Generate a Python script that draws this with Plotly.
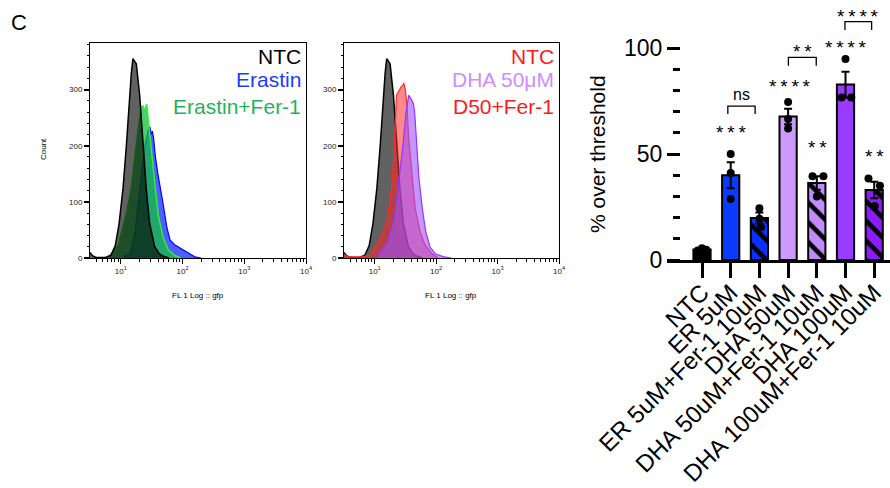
import numpy as np
import plotly.graph_objects as go

FONT = "Liberation Sans, Arial, sans-serif"
W, H = 890, 488


def fx(p):
    """pixel column -> paper x"""
    return p / W


def fy(p):
    """pixel row -> paper y"""
    return 1 - p / H


# ---------------- flow cytometry histograms (log10 FL1 position, event count) ----------------
ntc_log = [0.50, 0.54, 0.60, 0.75, 0.84, 0.91, 0.97, 1.035, 1.09, 1.143, 1.17, 1.195, 1.215,
           1.25, 1.305, 1.36, 1.413, 1.466, 1.548, 1.62, 1.69, 1.78]
ntc_cnt = [10, 4, 1, 1, 5, 22, 60, 124, 201, 290, 330, 355, 352, 346, 290, 201, 121, 62, 20, 8, 3, 0]

erastin_log = [1.05, 1.15, 1.23, 1.31, 1.39, 1.445, 1.47, 1.49, 1.51, 1.53, 1.56, 1.60, 1.634,
               1.688, 1.743, 1.797, 1.878, 1.986, 2.09, 2.2, 2.3]
erastin_cnt = [2, 8, 47, 130, 201, 228, 234, 220, 226, 214, 180, 150, 130, 94, 56, 32, 23, 16, 8, 2, 0]

erastin_fer_log = [0.80, 0.96, 1.095, 1.176, 1.23, 1.294, 1.338, 1.354, 1.38, 1.405, 1.419, 1.445,
                   1.50, 1.553, 1.607, 1.688, 1.77, 1.878, 1.97]
erastin_fer_cnt = [2, 23, 82, 130, 183, 242, 268, 272, 262, 268, 274, 245, 180, 130, 76, 35, 14, 4, 0]

d50_fer_log = [0.50, 0.55, 0.65, 0.80, 0.93, 1.094, 1.20, 1.28, 1.32, 1.355, 1.39, 1.43, 1.46,
               1.472, 1.50, 1.525, 1.553, 1.607, 1.66, 1.74, 1.82, 1.93, 2.03]
d50_fer_cnt = [6, 3, 2, 2, 5, 35, 65, 130, 201, 290, 297, 305, 308, 312, 299, 272, 213, 142, 88,
               47, 23, 8, 0]

dha50_log = [1.05, 1.21, 1.32, 1.40, 1.46, 1.51, 1.555, 1.59, 1.63, 1.65, 1.685, 1.72, 1.775,
             1.83, 1.90, 1.99, 2.13, 2.25]
dha50_cnt = [4, 29, 71, 142, 201, 260, 290, 284, 275, 260, 201, 142, 88, 47, 20, 7, 2, 0]

decade_vals = [10, 100, 1000, 10000]
decade_text = ["10<sup>1</sup>", "10<sup>2</sup>", "10<sup>3</sup>", "10<sup>4</sup>"]
count_ticks = [0, 100, 200, 300]

# ---------------- % over threshold bar chart ----------------
groups = ["NTC", "ER 5uM", "ER 5uM+Fer-1 10uM", "DHA 50uM", "DHA 50uM+Fer-1 10uM",
          "DHA 100uM", "DHA 100uM+Fer-1 10uM"]
replicates = [
    [4.5, 5.5, 4.8],
    [50.0, 41.0, 28.8],
    [24.4, 19.5, 15.5],
    [74.5, 66.5, 62.0],
    [39.5, 39.5, 30.0],
    [94.8, 76.7, 76.7],
    [38.5, 35.0, 25.5],
]
pct_ticks = [0, 50, 100]

# significance marks above single bars: (stars, x, y)
sig_single = [(3, 1.0, 62.3), (4, 3.07, 84.1), (2, 4.03, 55.3), (4, 5.0, 102.5), (2, 6.02, 51.0)]
# pairwise comparisons: (x left, x right, bracket top, leg bottom, stars (0 = ns), text x, text y)
sig_pairs = [(0.9, 1.85, 72.6, 68.9, 0, 1.39, 77.0),
             (3.01, 3.98, 95.6, 91.6, 2, 3.51, 100.6),
             (4.98, 5.91, 112.4, 108.5, 4, 5.44, 117.1)]

# styling
bar_colors = ["#000000", "#0a3cff", "#0a30ff", "#cc99ff", "#c28cff", "#9a3cff", "#8a1cff"]
bar_hatch = ["", "", "\\", "", "\\", "", "\\"]
dot_offsets = [[-0.15, 0.0, 0.15], [0, 0, 0], [0, 0, 0.05], [0, 0, 0],
               [-0.15, 0.23, 0.0], [0.0, -0.14, 0.2], [-0.2, 0.2, 0.02]]
STAR_SIZE = 19

fig = go.Figure()


def hist(xlog, cnt, fillcolor, linecolor, lw, xa, ya):
    fig.add_trace(go.Scatter(
        x=[10 ** v for v in xlog], y=cnt, mode="lines", fill="tozeroy",
        fillcolor=fillcolor, line=dict(color=linecolor, width=lw),
        xaxis=xa, yaxis=ya, hoverinfo="skip"))


# panel 1: Erastin, Erastin+Fer-1 under a translucent NTC
hist(erastin_log, erastin_cnt, "rgba(0,30,255,0.70)", "#0000ff", 1.2, "x", "y")
hist(erastin_fer_log, erastin_fer_cnt, "rgba(20,190,60,0.75)", "#33ee33", 1.5, "x", "y")
hist(ntc_log, ntc_cnt, "rgba(0,0,0,0.62)", "#000000", 1.5, "x", "y")

# panel 2: NTC underneath, D50+Fer-1 and DHA 50uM translucent on top
hist(ntc_log, ntc_cnt, "#616161", "#000000", 1.5, "x2", "y2")
hist(d50_fer_log, d50_fer_cnt, "rgba(255,40,40,0.55)", "#ff2a2a", 1.2, "x2", "y2")
hist(dha50_log, dha50_cnt, "rgba(160,80,255,0.60)", "#9933ff", 1.2, "x2", "y2")

# bar chart: mean +/- SEM of the replicates, one trace per group
means = [float(np.mean(r)) for r in replicates]
sems = [float(np.std(r, ddof=1) / np.sqrt(len(r))) for r in replicates]
xs = list(range(len(groups)))
for i in xs:
    marker = dict(color=bar_colors[i], line=dict(color="black", width=2))
    if bar_hatch[i]:
        marker["pattern"] = dict(shape=bar_hatch[i], fillmode="replace",
                                 bgcolor=bar_colors[i], fgcolor="black", fgopacity=1,
                                 size=14, solidity=0.33)
    fig.add_trace(go.Bar(
        x=[i], y=[means[i]], width=0.6, marker=marker,
        error_y=dict(type="data", array=[sems[i]], color="black", thickness=2, width=4),
        xaxis="x3", yaxis="y3", hoverinfo="skip"))

dot_x, dot_y = [], []
for i, (vals, offs) in enumerate(zip(replicates, dot_offsets)):
    for v, o in zip(vals, offs):
        dot_x.append(i + o)
        dot_y.append(v)
fig.add_trace(go.Scatter(x=dot_x, y=dot_y, mode="markers",
                         marker=dict(color="black", size=8), cliponaxis=False,
                         xaxis="x3", yaxis="y3", hoverinfo="skip"))

shapes = []
annotations = []


def stars(n):
    return "\u2009".join(["*"] * n)


def star_note(n, x, y):
    if n == 0:
        annotations.append(dict(text="ns", x=x, y=y, xref="x3", yref="y3", showarrow=False,
                                xanchor="center", yanchor="middle",
                                font=dict(size=16, color="black"), yshift=2))
    else:
        annotations.append(dict(text=stars(n), x=x, y=y, xref="x3", yref="y3",
                                showarrow=False, xanchor="center", yanchor="middle",
                                font=dict(size=STAR_SIZE, color="black"), yshift=-5))


for x0, x1, ytop, yleg, n, tx, ty in sig_pairs:
    shapes.append(dict(type="path", xref="x3", yref="y3",
                       path=f"M {x0},{yleg} L {x0},{ytop} L {x1},{ytop} L {x1},{yleg}",
                       line=dict(color="black", width=1.3)))
    star_note(n, tx, ty)
for n, tx, ty in sig_single:
    star_note(n, tx, ty)


def paper_text(txt, x, y, size, color="black", angle=0, xanchor="center"):
    annotations.append(dict(text=txt, x=fx(x), y=fy(y), xref="paper", yref="paper",
                            xanchor=xanchor, yanchor="middle", textangle=angle,
                            showarrow=False, font=dict(size=size, color=color)))


# y axis title of the bar chart, panel letter, histogram axis titles
paper_text("% over threshold", 597, 154, 21, angle=-90)
paper_text("C", 19, 23, 22)
paper_text("Count", 43, 149, 8, angle=-90)
for cx in (198, 451):
    paper_text("FL 1 Log :: gfp", cx, 295, 8)

# histogram legends
legend1 = [("NTC", "#000000", 56), ("Erastin", "#1a3cff", 80), ("Erastin+Fer-1", "#1fb25a", 107)]
legend2 = [("NTC", "#ff1a1a", 56), ("DHA 50μM", "#cf8cff", 80), ("D50+Fer-1", "#ff1a1a", 107)]
for items, right in ((legend1, 303), (legend2, 556)):
    for txt, col, yy in items:
        paper_text(txt, right, yy, 21, color=col, xanchor="right")

minor_log_vals = [m * 10 ** d for d in range(0, 4) for m in range(2, 10) if m * 10 ** d > 3.2]

hist_x = dict(type="log", range=[0.5, 4.0], showline=True, mirror=True, linecolor="black",
              linewidth=1, ticks="outside", ticklen=5, tickwidth=1, tickcolor="black",
              tickmode="array", tickvals=decade_vals, ticktext=decade_text,
              tickfont=dict(size=8, color="#222222"), showgrid=False, zeroline=False,
              automargin=False,
              minor=dict(ticks="outside", ticklen=2.5, tickwidth=1, tickcolor="black",
                         tickmode="array", tickvals=minor_log_vals, showgrid=False))
hist_y = dict(range=[0, 383], showline=True, mirror=True, linecolor="black", linewidth=1,
              ticks="outside", ticklen=5, tickwidth=1.5, tickcolor="black",
              tickmode="array", tickvals=count_ticks, tickfont=dict(size=8, color="#222222"),
              showgrid=False, zeroline=False, automargin=False,
              minor=dict(ticks="outside", ticklen=2.5, tickwidth=1, tickcolor="black",
                         dtick=20, showgrid=False),
              domain=[fy(258), fy(43)])

fig.update_layout(
    width=W, height=H, margin=dict(l=0, r=0, t=0, b=0, autoexpand=False),
    paper_bgcolor="white", plot_bgcolor="white", showlegend=False, barmode="overlay",
    font=dict(family=FONT, color="black"),
    xaxis=dict(hist_x, domain=[fx(90), fx(306)], anchor="y"),
    yaxis=dict(hist_y, anchor="x"),
    xaxis2=dict(hist_x, domain=[fx(344), fx(559)], anchor="y2"),
    yaxis2=dict(hist_y, anchor="x2"),
    xaxis3=dict(domain=[fx(667), 1.0], range=[-1.22, 6.55], anchor="y3",
                tickmode="array", tickvals=xs, ticktext=groups, tickangle=-45,
                tickfont=dict(size=24, color="black"), ticks="outside", ticklen=15,
                tickwidth=3, tickcolor="black", showline=True, linewidth=3,
                linecolor="black", showgrid=False, zeroline=False, automargin=False,
                ticklabelstandoff=-9),
    yaxis3=dict(domain=[fy(260), fy(2)], range=[0, 121.7], anchor="free", position=fx(680),
                showline=False, showgrid=False, zeroline=False, ticks="outside", ticklen=13,
                tickwidth=3, tickcolor="black", tickmode="array", tickvals=pct_ticks,
                tickfont=dict(size=23, color="black"), automargin=False,
                minor=dict(ticks="outside", ticklen=7, tickwidth=3, tickcolor="black",
                           tickmode="array", tickvals=[10, 20, 30, 40, 60, 70, 80, 90],
                           showgrid=False)),
    shapes=shapes, annotations=annotations,
)

fig.write_html("out.html")
